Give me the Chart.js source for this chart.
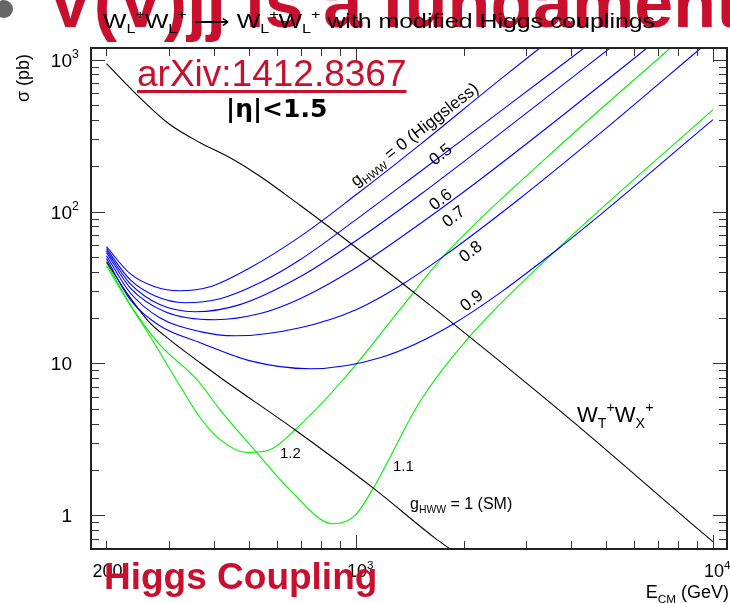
<!DOCTYPE html>
<html>
<head>
<meta charset="utf-8">
<script src="https://cdn.jsdelivr.net/npm/chart.js@4.4.1/dist/chart.umd.min.js"></script>
<style>
  html, body { margin: 0; padding: 0; background: #fff; }
  #wrap { position: relative; width: 730px; height: 603px; }
</style>
</head>
<body>
<div id="wrap"><canvas id="xsec" width="730" height="603"></canvas></div>
<script>
// E_CM (GeV) and sigma (pb)
const eWT = [200, 248, 301, 366, 444, 538, 697, 1000, 1644, 3890, 8990, 10000];
const sWT = [942, 562, 374, 284, 226, 171, 110, 58, 23.3, 4.48, 0.827, 0.669];

const eG00 = [200, 233, 273, 321, 390, 505, 697, 1000, 1511, 2530, 3273];
const sG00 = [58.7, 39.0, 32.0, 30.1, 32.0, 42.7, 68.4, 129, 276, 739, 1194];
const eG05 = [200, 233, 273, 332, 416, 538, 697, 1000, 1511, 2530, 4353];
const sG05 = [57.0, 35.6, 27.9, 25.1, 26.7, 34.0, 48.2, 88.5, 183, 455, 1194];
const eG06 = [200, 233, 282, 354, 473, 697, 1000, 1511, 2530, 5145];
const sG06 = [55.3, 33.5, 24.4, 21.9, 24.4, 37.2, 64.3, 129, 326, 1194];
const eG07 = [200, 233, 292, 403, 538, 697, 1000, 1511, 2223, 3727, 6530];
const sG07 = [53.6, 31.5, 21.9, 19.4, 21.3, 26.7, 42.7, 83.2, 162, 416, 1194];
const eG08 = [200, 233, 282, 366, 458, 697, 1000, 1328, 1753, 2877, 4820, 9250];
const sG08 = [51.2, 29.2, 20.0, 16.2, 15.2, 17.2, 22.6, 32.5, 50.5, 122, 327, 1194];
const eG09 = [200, 233, 282, 366, 505, 743, 1167, 1857, 3655, 10000];
const sG09 = [49.0, 26.3, 17.7, 13.7, 10.4, 9.23, 10.9, 18.0, 56.1, 403];

const eSM = [200, 233, 263, 301, 366, 425, 674, 1118, 1664, 1833];
const sSM = [46.7, 27.1, 18.8, 14.3, 10.1, 7.81, 3.66, 1.51, 0.708, 0.60];

const eG11 = [200, 233, 282, 359, 416, 527, 653, 862, 994, 1118, 1511, 2042, 3648, 10000];
const sG11 = [46, 24.4, 13.3, 7.8, 4.95, 2.59, 1.47, 0.88, 1.0, 1.51, 5.62, 14.3, 56.1, 469];
const eG12 = [200, 228, 263, 320, 366, 417, 495, 574, 675, 920, 1327, 1753, 3490, 7590];
const sG12 = [44, 26.3, 15.5, 7.24, 4.39, 3.14, 2.59, 2.70, 3.66, 7.81, 22.6, 50.5, 237, 1194];

// axis range and labelled ticks
const xRange = [181, 10940];
const yRange = [0.6, 1194];
const xLabels = [[200, '200', ''], [1000, '10', '3'], [10000, '10', '4']];
const yLabels = [[1, '1', ''], [10, '10', ''], [100, '10', '2'], [1000, '10', '3']];

const BLUE = '#0000ff', GREEN = '#00f000', RED = '#c8102e';
const FONT = '"Liberation Sans", Arial, sans-serif';

function pts(e, s) { return e.map((v, i) => ({ x: v, y: s[i] })); }
function curve(e, s, color) {
    return { data: pts(e, s), borderColor: color, borderWidth: 1.1, pointRadius: 0, fill: false,
             cubicInterpolationMode: 'monotone' };
}

// text with sub/superscripts: parts = [[text, 'n'|'sub'|'sup'], ...]
function rich(ctx, parts, x, y, size) {
    let cx = x;
    for (const [t, k] of parts) {
        const fs = k === 'n' ? size : size * 0.65;
        const dy = k === 'sub' ? size * 0.25 : k === 'sup' ? -size * 0.45 : 0;
        ctx.font = fs + 'px ' + FONT;
        ctx.fillText(t, cx, y + dy);
        cx += ctx.measureText(t).width;
    }
    return cx - x;
}
function richWidth(ctx, parts, size) {
    let w = 0;
    for (const [t, k] of parts) {
        ctx.font = (k === 'n' ? size : size * 0.65) + 'px ' + FONT;
        w += ctx.measureText(t).width;
    }
    return w;
}

const framePlugin = {
    id: 'frame',
    beforeDraw(chart) {
        const ctx = chart.ctx;
        ctx.save();
        // slide heading behind the plot
        ctx.fillStyle = '#666';
        ctx.beginPath();
        ctx.arc(4, 9, 9, 0, Math.PI * 2);
        ctx.fill();
        ctx.fillStyle = RED;
        ctx.textAlign = 'left';
        ctx.textBaseline = 'alphabetic';
        ctx.font = 'bold 70px ' + FONT;
        ctx.fillText('V(V)jj is a fundamental', 47, 27);
        ctx.restore();
    },
    afterDatasetsDraw(chart) {
        const { ctx, chartArea: a, scales: { x, y } } = chart;
        ctx.save();
        ctx.strokeStyle = '#333';
        ctx.lineWidth = 1;
        const seg = (x1, y1, x2, y2) => { ctx.beginPath(); ctx.moveTo(x1, y1); ctx.lineTo(x2, y2); ctx.stroke(); };
        // y ticks, left and right
        for (let d = -1; d <= 3; d++) {
            for (let m = 1; m <= 9; m++) {
                const v = m * Math.pow(10, d);
                if (v < yRange[0] || v > yRange[1]) continue;
                const py = Math.round(y.getPixelForValue(v)) + 0.5;
                const len = m === 1 ? 14 : 8;
                seg(a.left, py, a.left + len, py);
                seg(a.right, py, a.right - len, py);
            }
        }
        // x ticks, bottom and top
        for (let d = 2; d <= 4; d++) {
            for (let m = 1; m <= 9; m++) {
                const v = m * Math.pow(10, d);
                if (v < xRange[0] || v > xRange[1]) continue;
                const px = Math.round(x.getPixelForValue(v)) + 0.5;
                const len = m === 1 ? 14 : 8;
                seg(px, a.bottom, px, a.bottom - len);
                seg(px, a.top, px, a.top + len);
            }
        }
        ctx.lineWidth = 2;
        ctx.strokeStyle = '#222';
        ctx.strokeRect(a.left, a.top, a.right - a.left, a.bottom - a.top);

        ctx.fillStyle = '#000';
        ctx.textBaseline = 'alphabetic';
        ctx.textAlign = 'left';
        // y tick labels
        for (const [v, t, sup] of yLabels) {
            const py = y.getPixelForValue(v);
            const parts = [[t, 'n']];
            if (sup) parts.push([sup, 'sup']);
            const w = richWidth(ctx, [[t, 'n']], 19);
            rich(ctx, parts, 72 - w, py + 7, 19);
        }
        // x tick labels, main part centred on the tick
        for (const [v, t, sup] of xLabels) {
            const px = x.getPixelForValue(v);
            const parts = [[t, 'n']];
            if (sup) parts.push([sup, 'sup']);
            const w = richWidth(ctx, [[t, 'n']], 18);
            rich(ctx, parts, px - w / 2 + 1, 577, 18);
        }
        // axis titles
        const et = [['E', 'n'], ['CM', 'sub'], [' (GeV)', 'n']];
        rich(ctx, et, 729 - richWidth(ctx, et, 18), 598, 18);
        ctx.save();
        ctx.translate(29, 78);
        ctx.rotate(-Math.PI / 2);
        ctx.font = '18px ' + FONT;
        ctx.textAlign = 'center';
        ctx.fillText('\u03c3 (pb)', 0, 0);
        ctx.restore();

        // title, stretched to the width of the original
        const title = [['W', 'n'], ['L', 'sub'], ['+', 'sup'], ['W', 'n'], ['L', 'sub'], ['+', 'sup'],
                       [' \u27f6 ', 'n'], ['W', 'n'], ['L', 'sub'], ['+', 'sup'], ['W', 'n'], ['L', 'sub'], ['+', 'sup'],
                       [' with modified Higgs couplings', 'n']];
        const tw = richWidth(ctx, title, 20);
        ctx.save();
        ctx.translate(103, 28);
        ctx.scale(552 / tw, 1);
        rich(ctx, title, 0, 0, 20);
        ctx.restore();

        // curve labels
        ctx.save();
        ctx.translate(356, 187);
        ctx.rotate(-38 * Math.PI / 180);
        rich(ctx, [['g', 'n'], ['HWW', 'sub'], [' = 0 (Higgsless)', 'n']], 0, 0, 17);
        ctx.restore();
        for (const [t, cx, cy] of [['0.5', 441, 155], ['0.6', 441, 200], ['0.7', 454, 217], ['0.8', 471, 252], ['0.9', 472, 301]]) {
            ctx.save();
            ctx.translate(cx, cy);
            ctx.rotate(-38 * Math.PI / 180);
            ctx.font = '17px ' + FONT;
            ctx.textAlign = 'center';
            ctx.textBaseline = 'middle';
            ctx.fillText(t, 0, 0);
            ctx.restore();
        }
        ctx.font = '15px ' + FONT;
        ctx.fillText('1.2', 280, 458);
        ctx.fillText('1.1', 393, 471);
        rich(ctx, [['g', 'n'], ['HWW', 'sub'], [' = 1 (SM)', 'n']], 410, 509, 16);
        rich(ctx, [['W', 'n'], ['T', 'sub'], ['+', 'sup'], ['W', 'n'], ['X', 'sub'], ['+', 'sup']], 577, 422, 22);
        ctx.restore();
    },
    afterDraw(chart) {
        const ctx = chart.ctx;
        ctx.save();
        // slide annotations on top of the plot
        ctx.fillStyle = RED;
        ctx.textAlign = 'left';
        ctx.textBaseline = 'alphabetic';
        ctx.font = '37px ' + FONT;
        ctx.fillText('arXiv:1412.8367', 137, 86);
        const w = ctx.measureText('arXiv:1412.8367').width;
        ctx.fillRect(137, 90, w, 3);
        ctx.font = 'bold 37px ' + FONT;
        ctx.fillText('Higgs Coupling', 104, 589);
        ctx.fillStyle = '#000';
        ctx.font = 'bold 25px "DejaVu Sans", sans-serif';
        ctx.fillText('|\u03b7|<1.5', 226, 117);
        ctx.restore();
    }
};

new Chart(document.getElementById('xsec'), {
    type: 'line',
    data: {
        datasets: [
            curve(eWT, sWT, '#000'),
            curve(eG00, sG00, BLUE),
            curve(eG05, sG05, BLUE),
            curve(eG06, sG06, BLUE),
            curve(eG07, sG07, BLUE),
            curve(eG08, sG08, BLUE),
            curve(eG09, sG09, BLUE),
            curve(eSM, sSM, '#000'),
            curve(eG11, sG11, GREEN),
            curve(eG12, sG12, GREEN),
        ],
    },
    options: {
        responsive: false,
        animation: false,
        devicePixelRatio: 1,
        layout: { padding: { left: 91, right: 3, top: 48, bottom: 54 } },
        plugins: { legend: { display: false }, tooltip: { enabled: false } },
        scales: {
            x: { type: 'logarithmic', min: xRange[0], max: xRange[1], display: false },
            y: { type: 'logarithmic', min: yRange[0], max: yRange[1], display: false },
        },
    },
    plugins: [framePlugin],
});
</script>
</body>
</html>
